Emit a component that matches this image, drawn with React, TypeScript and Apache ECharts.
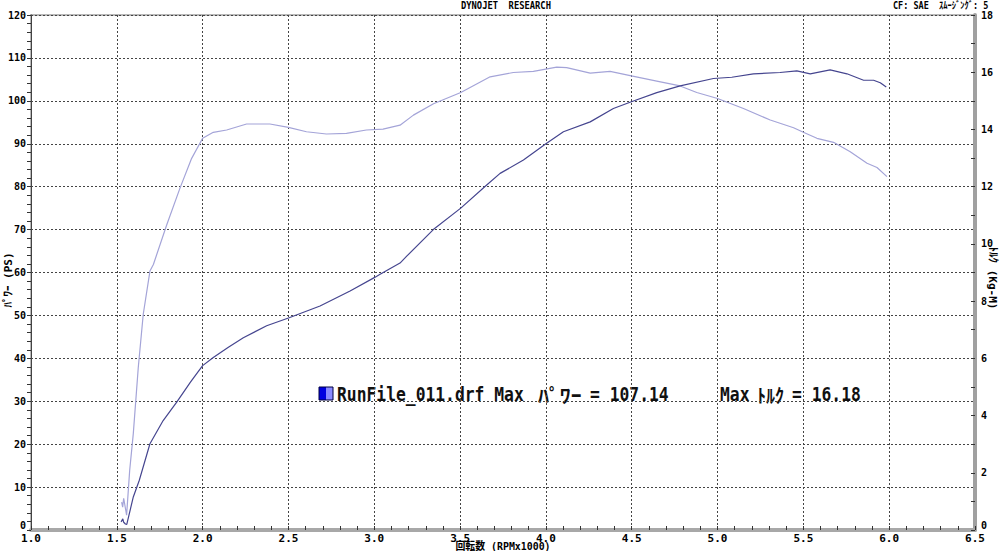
import React, { useEffect, useRef } from "react";
import * as echarts from "echarts";

// ---- data ----
const powerRpm = [
  1.525, 1.535, 1.54, 1.55, 1.558, 1.596, 1.631, 1.693, 1.77, 1.849, 1.93, 2.0, 2.062, 2.15, 2.237, 2.373, 2.5,
  2.684, 2.859, 3.0, 3.034, 3.15, 3.189, 3.344, 3.504, 3.655, 3.733, 3.869, 4.0, 4.102, 4.258, 4.393,
  4.498, 4.646, 4.782, 4.976, 5.083, 5.209, 5.364, 5.462, 5.54, 5.656, 5.754, 5.851, 5.909, 5.948, 5.983,
];
const powerPs = [
  1.9, 2.6, 1.8, 1.4, 1.3, 7.7, 11.6, 20.1, 25.5, 29.8, 34.5, 38.3, 40.2, 42.6, 44.8, 47.6, 49.4,
  52.2, 55.7, 58.8, 59.6, 62.2, 63.8, 70.0, 75.0, 80.4, 83.1, 86.2, 90.0, 92.8, 95.1, 98.2,
  99.8, 101.9, 103.5, 105.2, 105.5, 106.3, 106.6, 107.0, 106.3, 107.2, 106.3, 104.8, 104.8, 104.2, 103.2,
];
const torqueRpm = [
  1.528, 1.534, 1.54, 1.546, 1.557, 1.575, 1.596, 1.625, 1.654, 1.693, 1.713, 1.791, 1.868, 1.936, 2.0, 2.062,
  2.14, 2.256, 2.392, 2.5, 2.605, 2.721, 2.838, 2.954, 3.051, 3.15, 3.228, 3.345, 3.504, 3.675, 3.81,
  3.927, 4.063, 4.121, 4.258, 4.374, 4.498, 4.646, 4.782, 4.879, 5.0, 5.151, 5.307, 5.443, 5.5, 5.579,
  5.676, 5.773, 5.871, 5.929, 5.987,
];
const torqueKgm = [
  0.97, 0.8, 1.11, 0.9, 0.52, 2.09, 3.37, 5.68, 7.54, 9.05, 9.28, 10.67, 11.95, 12.99, 13.69, 13.9,
  13.98, 14.19, 14.19, 14.07, 13.92, 13.84, 13.86, 13.98, 14.01, 14.15, 14.5, 14.9, 15.29, 15.84, 15.99,
  16.03, 16.18, 16.16, 15.97, 16.03, 15.87, 15.69, 15.52, 15.29, 15.08, 14.73, 14.33, 14.06, 13.9, 13.69,
  13.55, 13.22, 12.82, 12.67, 12.35,
];

const titleText = "DYNOJET  RESEARCH";
const cfText = "CF: SAE  ｽﾑｰｼﾞﾝｸﾞ: 5";
const xAxisName = "回転数 (RPMx1000)";
const leftAxisName = "ﾊﾟﾜｰ (PS)";
const rightAxisName = "ﾄﾙｸ (Kg-M)";
const runFile = "RunFile_011.drf";
const powerWord = "ﾊﾟﾜｰ";
const torqueWord = "ﾄﾙｸ";
const maxPower = "107.14";
const maxTorque = "16.18";

const MONO = '"DejaVu Sans Mono", "Noto Sans CJK JP", monospace';
const CJK = '"DejaVu Sans Mono", "Noto Sans CJK JP", sans-serif';
const JP = '"Noto Sans CJK JP", sans-serif';

export default function App() {
  const ref = useRef<HTMLDivElement>(null);
  useEffect(() => {
    if (!ref.current) return;
    const chart = echarts.init(ref.current, undefined, { renderer: "svg" });
    const labelStyle = { fontFamily: MONO, fontWeight: "bold" as const, fontSize: 10, color: "#000" };
    const zeroRich = { z: { fontFamily: MONO, fontWeight: "bold" as const, fontSize: 10, color: "#000", padding: [0, 0, 9, 0] } };
    const legendText = (text: string, x: number, scaleX = 0.86, family = CJK) => ({
      type: "text",
      x,
      y: 395,
      scaleX,
      style: { text, font: `bold 19px ${family}`, fill: "#111", textAlign: "left", textVerticalAlign: "middle" },
    });
    chart.setOption({
      animation: false,
      backgroundColor: "#fff",
      grid: { left: 31, right: 25, top: 15, bottom: 21, show: true, borderColor: "#b8b8b8", borderWidth: 2 },
      xAxis: {
        type: "value",
        min: 1.0,
        max: 6.5,
        interval: 0.5,
        axisLine: { show: true, onZero: false, lineStyle: { color: "#a8a8a8", width: 4 } },
        axisTick: { show: true, inside: true, length: 4, lineStyle: { color: "#333" } },
        minorTick: { show: true, splitNumber: 5, length: 4, lineStyle: { color: "#333" } },
        axisLabel: { ...labelStyle, fontSize: 11, margin: 3, formatter: (v: number) => v.toFixed(1) },
        splitLine: { show: true, lineStyle: { color: "#444", type: [2, 2], width: 1 } },
      },
      yAxis: [
        {
          type: "value",
          min: 0,
          max: 120,
          interval: 10,
          position: "left",
          axisLine: { show: true, lineStyle: { color: "#444", width: 1 } },
          axisTick: { show: true, length: 4, lineStyle: { color: "#333" } },
          minorTick: { show: true, splitNumber: 5, length: 4, lineStyle: { color: "#333" } },
          axisLabel: { ...labelStyle, margin: 5, formatter: (v: number) => (v === 0 ? "{z|0}" : String(v)), rich: zeroRich },
          splitLine: { show: true, lineStyle: { color: "#444", type: [2, 2], width: 1 } },
        },
        {
          type: "value",
          min: 0,
          max: 18,
          interval: 2,
          position: "right",
          axisLine: { show: true, lineStyle: { color: "#a0a0a0", width: 4 } },
          axisTick: { show: true, inside: true, length: 4, lineStyle: { color: "#333" } },
          minorTick: { show: true, splitNumber: 2, length: 4, lineStyle: { color: "#333" } },
          axisLabel: { ...labelStyle, margin: 6, formatter: (v: number) => (v === 0 ? "{z|0}" : String(v)), rich: zeroRich },
          splitLine: { show: false },
        },
      ],
      series: [
        {
          name: "トルク",
          type: "line",
          yAxisIndex: 1,
          symbol: "none",
          data: torqueRpm.map((r, i) => [r, torqueKgm[i]]),
          lineStyle: { color: "#a4a4d8", width: 1.2 },
        },
        {
          name: "パワー",
          type: "line",
          yAxisIndex: 0,
          symbol: "none",
          data: powerRpm.map((r, i) => [r, powerPs[i]]),
          lineStyle: { color: "#45458f", width: 1.2 },
        },
      ],
      graphic: [
        {
          type: "text",
          x: 461,
          y: 5,
          scaleX: 0.88,
          style: { text: titleText, font: `bold 10px ${MONO}`, fill: "#000", textAlign: "left", textVerticalAlign: "middle" },
        },
        {
          type: "text",
          x: 893,
          y: 5,
          scaleX: 0.85,
          style: { text: cfText, font: `bold 10px ${CJK}`, fill: "#000", textAlign: "left", textVerticalAlign: "middle" },
        },
        {
          type: "text",
          x: 503,
          y: 546,
          scaleX: 0.9,
          style: { text: xAxisName, font: `bold 11px ${CJK}`, fill: "#000", textAlign: "center", textVerticalAlign: "middle" },
        },
        {
          type: "text",
          x: 8,
          y: 280,
          rotation: Math.PI / 2,
          style: { text: leftAxisName, font: `bold 11px ${CJK}`, fill: "#000", textAlign: "center", textVerticalAlign: "middle" },
        },
        {
          type: "text",
          x: 992,
          y: 278,
          rotation: -Math.PI / 2,
          style: { text: rightAxisName, font: `bold 11px ${CJK}`, fill: "#000", textAlign: "center", textVerticalAlign: "middle" },
        },
        { type: "rect", shape: { x: 319, y: 387, width: 7, height: 13 }, style: { fill: "#0000e0" } },
        { type: "rect", shape: { x: 326, y: 387, width: 7, height: 13 }, style: { fill: "#8a8aff" } },
        { type: "rect", shape: { x: 319, y: 387, width: 14, height: 13 }, style: { fill: "none", stroke: "#000040", lineWidth: 1 } },
        legendText(`${runFile} Max`, 337),
        legendText(powerWord, 538, 1.15, JP),
        legendText(`= ${maxPower}`, 590),
        legendText("Max", 720),
        legendText(torqueWord, 757, 0.95, JP),
        legendText(`= ${maxTorque}`, 792),
      ],
    });
    return () => chart.dispose();
  }, []);
  return <div ref={ref} style={{ position: "fixed", left: 0, top: 0, width: 1000, height: 551 }} />;
}
